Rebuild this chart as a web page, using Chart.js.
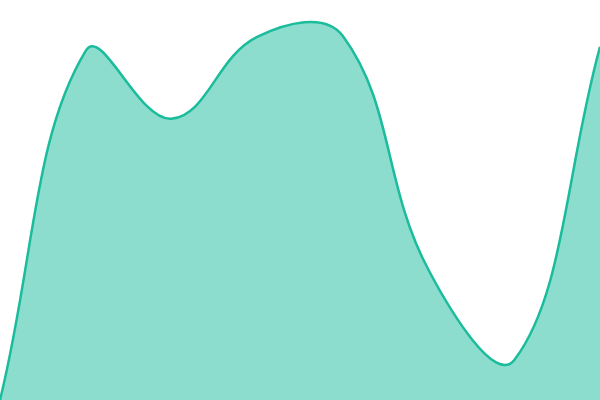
<!DOCTYPE html>
<html>
<head>
<meta charset="utf-8">
<script src="https://cdn.jsdelivr.net/npm/chart.js@4"></script>
<style>
  html, body { margin: 0; padding: 0; background: #fff; }
  #wrap { width: 600px; height: 400px; }
</style>
</head>
<body>
<div id="wrap"><canvas id="chart"></canvas></div>
<script>
const labels = ["1", "2", "3", "4", "5", "6", "7", "8"];
const values = [0, 87.3, 70.3, 90.8, 91, 32.5, 10, 88.3];

new Chart(document.getElementById("chart"), {
  type: "line",
  data: {
    labels: labels,
    datasets: [{
      data: values,
      fill: true,
      tension: 0.4,
      borderColor: "#1abc9c",
      backgroundColor: "rgba(26, 188, 156, 0.5)",
      borderWidth: 2.5,
      pointRadius: 0
    }]
  },
  options: {
    responsive: true,
    maintainAspectRatio: false,
    animation: false,
    layout: { padding: 0 },
    plugins: { legend: { display: false }, tooltip: { enabled: false } },
    scales: {
      x: { display: false },
      y: { display: false, min: 0, max: 100 }
    }
  }
});
</script>
</body>
</html>
